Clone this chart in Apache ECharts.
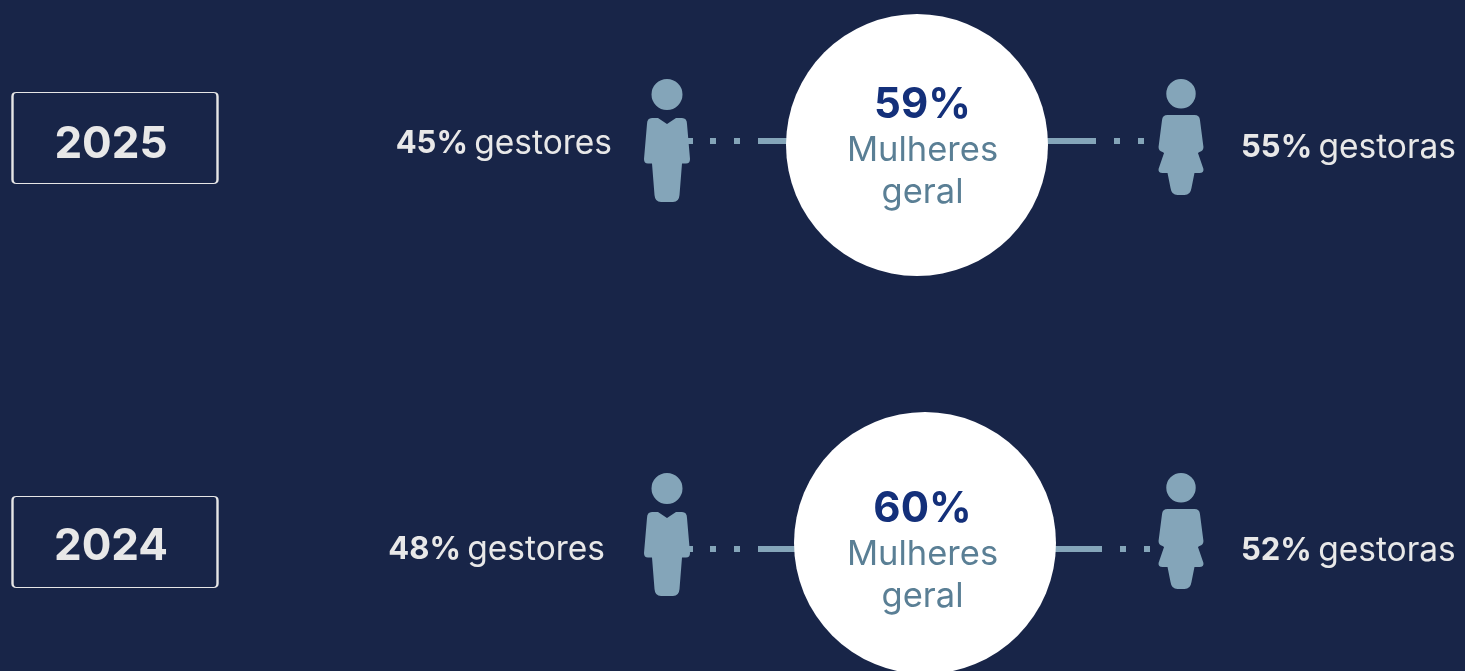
<!DOCTYPE html>
<html lang="en">
<head>
  <meta charset="UTF-8">
  <title>Mulheres gestoras</title>
  <script src="https://cdn.jsdelivr.net/npm/echarts@6/dist/echarts.min.js"></script>
  <style>
    html, body { margin: 0; padding: 0; background: #182548; }
  </style>
</head>
<body>
<div id="chart" style="width: 1465px; height: 671px"></div>
<script>
  // values
  const years = ['2025', '2024'];
  const overallWomen = [59, 60];
  const menManagers = [45, 48];
  const womenManagers = [55, 52];

  // one layout row per year, in page pixels
  const rows = [
    {box: 138, year: 145, cx: 917, cy: 145, pct: 105, word1: 151, word2: 193, figTop: 79, lineL: 141, lineR: 141, menRight: 612, womenLeft: 1241, menY: 144, womenY: 148, solidL: 786, solidR: 1048},
    {box: 542, year: 547, cx: 925, cy: 543, pct: 509, word1: 555, word2: 597, figTop: 473, lineL: 549, lineR: 549, menRight: 605, womenLeft: 1241, menY: 550, womenY: 551, solidL: 792, solidR: 1054}
  ];

  const FONT = 'Inter';
  const BLUE = '#84a5b9';
  const LIGHT = '#e8e8e8';

  const manPath = 'path://M23 0A15.5 15.5 0 1 1 23 31A15.5 15.5 0 1 1 23 0ZM14 39L23 45L32 39L38 39Q43 39 43 45L46 80Q46 84.5 42 84.5L38 84.5L35.5 116Q35 123 29 123L17 123Q11 123 10.5 116L8 84.5L4 84.5Q0 84.5 0 80L3 45Q3 39 8 39Z';
  const womanPath = 'path://M22.5 0A14.75 14.75 0 1 1 22.5 29.5A14.75 14.75 0 1 1 22.5 0ZM9 36L36 36Q41 36 41.5 41L45 68Q45 72 41 73L39.5 74L45 90Q45.5 94 41 94L36 94L33 109Q32 116 26 116L19 116Q13 116 12 109L9 94L4 94Q-0.5 94 0 90L5.5 74L4 73Q0 72 0 68L3.5 41Q4 36 9 36Z';
  const boxPath = 'path://M4 0L202 0Q206 0 206 4L206 88Q206 92 202 92L4 92Q0 92 0 88L0 4Q0 0 4 0Z';

  function connector(x1, x2, y, dash) {
    return {
      type: 'line', data: [[x1, y], [x2, y]], symbol: 'none', silent: true, z: 1,
      lineStyle: {color: BLUE, width: 6, type: dash, cap: 'butt', opacity: 1}
    };
  }

  function marks(symbol, size, data, style) {
    return {type: 'scatter', symbol, symbolSize: size, data, itemStyle: {opacity: 1, ...style}, z: 2, silent: true, clip: false};
  }

  function textItem(x, y, align, rich, text) {
    return {value: [x, y], label: {show: true, position: 'inside', align, verticalAlign: 'middle', formatter: text, rich}};
  }

  const richSide = {
    b: {fontFamily: FONT, fontWeight: 700, fontSize: 31, color: LIGHT},
    r: {fontFamily: FONT, fontWeight: 400, fontSize: 33.5, color: LIGHT, padding: [0, 0, 0, 3]}
  };
  const richCenter = {
    p: {fontFamily: FONT, fontWeight: 700, fontSize: 42, color: '#14307a'},
    w: {fontFamily: FONT, fontWeight: 400, fontSize: 34.5, color: '#5a7f95'},
    y: {fontFamily: FONT, fontWeight: 700, fontSize: 44, color: LIGHT}
  };

  const series = [];
  rows.forEach(r => {
    series.push(connector(687, r.solidL + 4, r.lineL, [6, 17, 6, 18, 6, 18, 200]));
    series.push(connector(r.solidR - 4, r.solidR + 96, r.lineR, [52, 18, 6, 18, 6, 200]));
  });
  series.push(marks('circle', 262, rows.map(r => [r.cx, r.cy]), {color: '#ffffff'}));
  series.push(marks(manPath, [46, 123], rows.map(r => [667, r.figTop + 61.5]), {color: BLUE}));
  series.push(marks(womanPath, [45, 116], rows.map(r => [1181, r.figTop + 58]), {color: BLUE}));
  series.push(marks(boxPath, [205, 91], rows.map(r => [115, r.box]), {color: 'none', borderColor: '#e6e6e6', borderWidth: 1.6}));

  const labels = [];
  rows.forEach((r, i) => {
    labels.push(textItem(111, r.year, 'center', richCenter, `{y|${years[i]}}`));
    labels.push(textItem(r.menRight, r.menY, 'right', richSide, `{b|${menManagers[i]}%} {r|gestores}`));
    labels.push(textItem(r.womenLeft, r.womenY, 'left', richSide, `{b|${womenManagers[i]}%} {r|gestoras}`));
    labels.push(textItem(922.5, r.pct, 'center', richCenter, `{p|${overallWomen[i]}%}`));
    labels.push(textItem(922.5, r.word1, 'center', richCenter, '{w|Mulheres}'));
    labels.push(textItem(922.5, r.word2, 'center', richCenter, '{w|geral}'));
  });
  series.push({type: 'scatter', symbolSize: 1, data: labels, itemStyle: {color: 'rgba(0,0,0,0)', opacity: 1}, z: 5, silent: true});

  const chart = echarts.init(document.getElementById('chart'));
  chart.setOption({
    backgroundColor: '#182548',
    animation: false,
    grid: {left: 0, right: 0, top: 0, bottom: 0},
    xAxis: {type: 'value', min: 0, max: 1465, show: false},
    yAxis: {type: 'value', min: 0, max: 671, inverse: true, show: false},
    series
  });
</script>
</body>
</html>
